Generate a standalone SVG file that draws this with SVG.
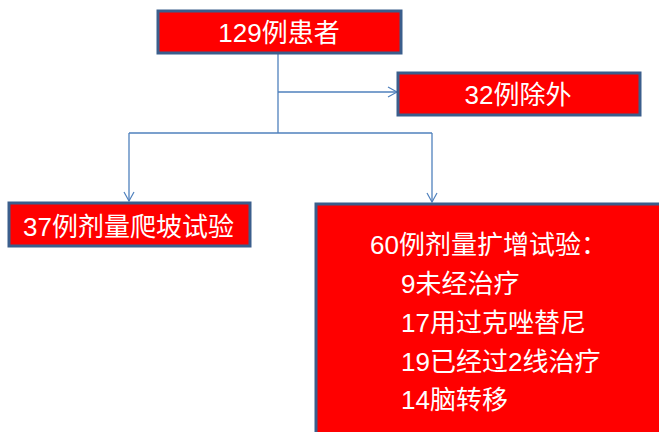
<svg xmlns="http://www.w3.org/2000/svg" width="659" height="432" viewBox="0 0 659 432">
<defs>
<marker id="arr" markerWidth="12" markerHeight="12" refX="10" refY="6" orient="auto" markerUnits="userSpaceOnUse">
<path d="M1,1 L10,6 L1,11" fill="none" stroke="#4F81BD" stroke-width="1.2"/>
</marker>
</defs>
<style>
.box{fill:#FF0000;stroke:#3B5E8C;stroke-width:3}
.t{fill:#FFFFFF;font-family:"Liberation Sans","Noto Sans CJK SC",sans-serif;font-size:26px}
.c{fill:none;stroke:#4F81BD;stroke-width:1.3}
</style>
<rect width="659" height="432" fill="#FFFFFF"/>
<g id="connectors">
<path class="c" d="M278,53 V133"/>
<path class="c" d="M278,92 H397" marker-end="url(#arr)"/>
<path class="c" d="M129,133 H432"/>
<path class="c" d="M129,133 V201" marker-end="url(#arr)"/>
<path class="c" d="M432,133 V202" marker-end="url(#arr)"/>
</g>
<g id="n129">
<rect class="box" x="158" y="11" width="243" height="42"/>
<text class="t" x="279" y="42" text-anchor="middle">129例患者</text>
</g>
<g id="n32">
<rect class="box" x="398" y="73" width="242" height="42"/>
<text class="t" x="518" y="104" text-anchor="middle">32例除外</text>
</g>
<g id="n37">
<rect class="box" x="9" y="203" width="241" height="43"/>
<text class="t" x="23" y="236">37例剂量爬坡试验</text>
</g>
<g id="n60">
<rect class="box" x="316" y="204" width="350" height="240"/>
<text class="t" x="370" y="254">60例剂量扩增试验：</text>
<text class="t" x="401" y="293">9未经治疗</text>
<text class="t" x="401" y="332">17用过克唑替尼</text>
<text class="t" x="401" y="371">19已经过2线治疗</text>
<text class="t" x="401" y="409">14脑转移</text>
</g>
</svg>
